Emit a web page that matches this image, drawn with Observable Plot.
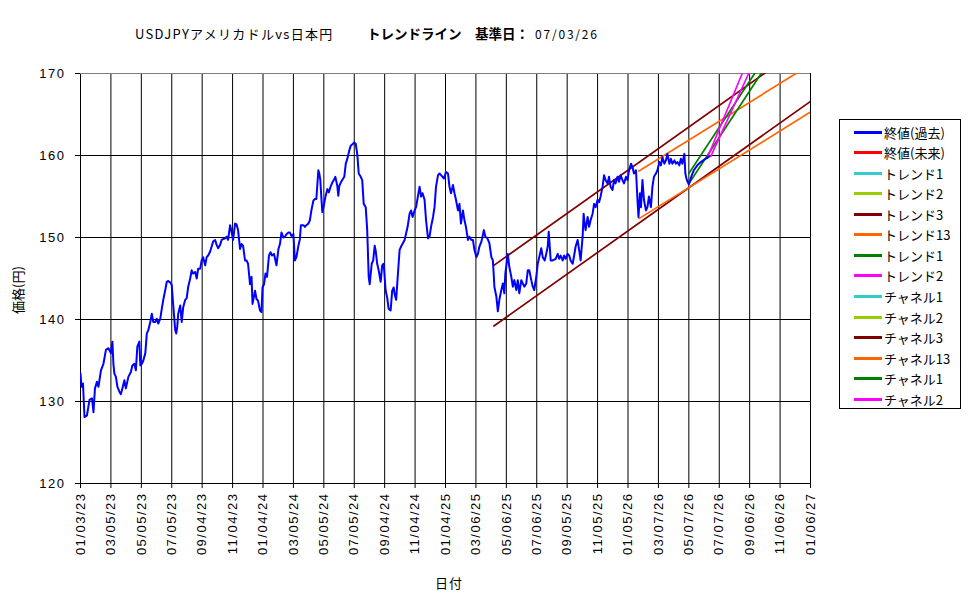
<!DOCTYPE html>
<html>
<head>
<meta charset="utf-8">
<script src="https://cdn.jsdelivr.net/npm/d3@7"></script>
<script src="https://cdn.jsdelivr.net/npm/@observablehq/plot@0.6"></script>
<style>
  body { margin: 0; background: white; }
  #wrap { position: relative; width: 975px; height: 599px; overflow: hidden; font-family: "Noto Sans CJK JP", sans-serif; color: black; }
  #wrap svg text { letter-spacing: 1.5px; }
  .abs { position: absolute; white-space: nowrap; }
  #legend { position: absolute; left: 839px; top: 119px; width: 122px; height: 290px; border: 1px solid black; box-sizing: border-box; background: white; }
  .lrow { position: absolute; left: 0; height: 16px; display: flex; align-items: center; font-size: 13px; }
  .lrow span.sw { display: inline-block; width: 28px; height: 3px; margin-left: 14px; margin-right: 2px; }
</style>
</head>
<body>
<div id="wrap"></div>
<script>
// ---------- data ----------
const titleMain = "USDJPYアメリカドルvs日本円";
const titleSub = "トレンドライン　基準日：";
const baseDateLabel = "07/03/26";
const xAxisTitle = "日付";
const yAxisTitle = "価格(円)";

const xTickLabels = ["01/03/23","03/05/23","05/05/23","07/05/23","09/04/23","11/04/23","01/04/24","03/05/24","05/05/24","07/05/24","09/04/24","11/04/24","01/04/25","03/06/25","05/06/25","07/06/25","09/05/25","11/05/25","01/05/26","03/07/26","05/07/26","07/07/26","09/06/26","11/06/26","01/06/27"];
const yTicks = [120, 130, 140, 150, 160, 170];

// closing prices: day offset from first date (2023-01-03) and value
const closeStart = "2023-01-03";
const closeDays = [0,2,5,8,13,18,23,26,29,33,36,41,46,51,56,61,64,66,68,71,74,78,81,84,88,91,96,101,104,108,111,114,118,120,123,126,130,133,136,140,143,146,150,153,156,160,163,166,170,173,176,180,183,186,190,192,194,196,200,203,206,210,213,216,220,223,226,230,233,236,240,243,246,250,253,256,260,263,266,270,273,276,280,283,286,290,293,296,300,303,306,310,313,316,320,323,326,330,333,336,340,343,345,350,353,356,360,363,365,368,371,374,378,381,384,388,391,393,397,400,403,407,410,413,417,420,423,427,430,433,437,440,442,447,450,453,457,460,463,467,470,473,477,479,481,483,485,488,491,495,498,501,505,508,511,515,517,519,522,525,529,532,536,539,542,546,549,552,555,558,562,565,568,572,575,578,580,584,587,590,592,595,598,602,605,608,612,615,618,622,625,628,630,633,638,640,643,650,656,660,663,666,670,673,680,683,686,690,693,697,700,703,707,710,713,717,720,723,729,733,737,740,743,747,750,753,757,760,763,767,770,773,777,780,784,787,790,794,797,800,804,809,812,816,820,824,827,829,830,834,837,840,844,847,850,852,857,860,864,867,870,874,877,880,884,887,890,894,897,900,904,907,910,914,917,920,924,927,931,934,937,939,943,947,953,957,960,963,967,970,973,977,980,983,987,990,993,997,1000,1003,1007,1009,1011,1013,1017,1020,1023,1027,1030,1033,1037,1040,1043,1047,1050,1053,1057,1060,1063,1067,1070,1073,1077,1080,1083,1087,1090,1094,1097,1100,1104,1107,1110,1114,1117,1119,1122,1124,1127,1130,1134,1137,1140,1144,1147,1150,1154,1157,1161,1164,1167,1171,1174,1177,1181,1184,1187,1191,1194,1197,1201,1204,1207,1211,1213,1216,1219,1220,1226,1230,1237,1244,1251,1257,1261];
const closeValues = [133.4,131.8,132.2,128.1,128.3,130.2,130.4,128.7,131.6,132.4,131.8,133.8,134.6,136.3,136.5,135.9,137.3,134.6,133.4,133.0,131.8,131.2,130.9,131.6,132.6,131.6,133.0,133.6,134.4,134.6,133.8,136.7,137.3,134.4,134.6,135.0,135.9,138.3,138.7,139.7,140.7,139.7,139.7,140.1,139.5,140.1,141.3,142.4,143.6,144.6,144.7,144.5,144.2,141.7,138.7,138.3,139.1,140.7,141.7,139.7,141.5,142.4,142.6,144.0,145.0,146.0,145.6,145.8,145.0,146.2,146.2,147.2,147.6,146.6,147.6,147.8,148.3,148.9,149.5,149.7,149.1,148.7,149.1,149.7,149.8,149.9,150.1,149.7,151.5,150.7,149.7,151.7,151.6,150.9,148.6,149.2,149.0,147.2,147.2,146.8,144.3,145.2,141.9,143.5,142.5,142.3,141.1,140.9,143.9,144.3,145.6,145.2,147.8,148.2,147.8,148.0,147.2,146.6,148.6,149.2,150.6,150.0,150.1,150.4,150.6,150.6,150.2,150.4,147.2,147.6,149.0,149.8,151.5,151.5,151.3,151.5,151.7,152.1,153.3,154.5,154.7,154.7,158.2,157.8,157.0,154.9,153.1,153.9,154.9,155.9,155.5,156.1,156.7,157.0,157.4,156.3,155.1,156.3,156.7,157.0,157.4,159.0,159.8,160.6,161.2,161.4,161.6,161.4,160.2,157.8,157.4,157.0,154.1,153.7,150.9,145.2,144.3,146.8,147.2,149.0,148.4,146.8,146.0,144.6,146.6,146.8,143.5,142.7,141.3,141.1,143.5,143.9,143.1,142.4,146.8,148.5,148.9,149.7,151.3,152.9,153.3,152.5,153.3,153.7,156.2,155.0,155.4,154.6,152.1,149.9,150.1,151.3,152.5,153.7,156.2,157.6,157.8,157.6,157.2,158.0,157.8,156.2,155.4,156.4,155.4,154.6,153.3,154.1,151.7,153.3,152.1,151.3,149.7,150.1,149.7,149.7,148.5,147.6,148.0,148.9,149.5,150.9,150.1,149.9,149.3,147.6,147.2,145.2,144.0,142.8,141.0,142.4,143.6,144.4,143.2,145.6,148.0,146.4,145.2,144.0,144.8,143.6,144.8,143.2,144.8,144.4,144.0,144.4,146.0,146.0,144.8,144.0,143.6,145.2,146.8,147.6,148.7,147.6,147.2,148.0,148.9,150.7,147.2,147.2,147.4,148.0,147.4,147.8,147.2,147.8,147.4,148.0,147.8,147.2,146.8,147.8,148.9,149.7,148.5,147.2,150.1,152.9,151.7,150.9,152.5,151.3,152.1,152.9,154.1,153.7,154.6,154.3,155.0,156.2,157.6,157.0,156.6,157.4,156.2,155.8,157.0,156.6,157.4,156.8,157.6,157.0,156.6,157.4,157.0,158.2,159.0,158.6,157.8,158.2,154.6,152.5,155.4,153.7,157.0,154.6,153.3,153.7,155.0,153.7,156.2,157.4,157.8,158.2,159.2,158.8,159.8,159.0,159.4,160.2,159.0,159.6,159.0,159.4,159.0,159.2,158.8,159.6,159.0,160.2,157.8,157.0,156.6,156.5,157.6,158.2,158.8,159.2,159.5,159.7,159.9];

// trend / channel lines drawn on the chart
const lineNames       = ["トレンド3", "チャネル3", "トレンド13", "チャネル13", "トレンド1", "チャネル1", "トレンド2", "チャネル2"];
const lineColors      = ["#800000", "#800000", "#FF6600", "#FF6600", "#008000", "#008000", "#FF00FF", "#FF00FF"];
const lineStartDates  = ["2025-04-11","2025-04-11","2026-01-27","2026-01-27","2026-05-07","2026-05-07","2026-06-13","2026-06-20"];
const lineStartValues = [139.2, 146.6, 152.3, 158.1, 156.55, 157.8, 159.7, 159.9];
const lineEndDates    = ["2027-01-06","2027-01-06","2027-01-06","2027-01-06","2026-09-29","2026-09-16","2026-08-22","2026-09-04"];
const lineEndValues   = [166.6, 174.0, 165.3, 171.1, 170.0, 170.0, 170.0, 170.0];

// legend
const legendLabels = ["終値(過去)","終値(未来)","トレンド1","トレンド2","トレンド3","トレンド13","トレンド1","トレンド2","チャネル1","チャネル2","チャネル3","チャネル13","チャネル1","チャネル2"];
const legendColors = ["#0000FF","#FF0000","#33CCCC","#99CC00","#800000","#FF6600","#008000","#FF00FF","#33CCCC","#99CC00","#800000","#FF6600","#008000","#FF00FF"];

// ---------- build ----------
const parseMDY = s => { const [m, d, y] = s.split("/").map(Number); return new Date(Date.UTC(2000 + y, m - 1, d)); };
const tickDates = xTickLabels.map(parseMDY);
const labelMap = new Map(tickDates.map((d, i) => [+d, xTickLabels[i]]));
const t0 = new Date(closeStart + "T00:00:00Z");
const closeData = closeDays.map((d, i) => ({date: new Date(+t0 + d * 864e5), value: closeValues[i]}));
const segData = [];
lineNames.forEach((n, i) => {
  segData.push({id: i, date: new Date(lineStartDates[i] + "T00:00:00Z"), value: lineStartValues[i], color: lineColors[i]});
  segData.push({id: i, date: new Date(lineEndDates[i] + "T00:00:00Z"), value: lineEndValues[i], color: lineColors[i]});
});

const chart = Plot.plot({
  width: 975, height: 599,
  marginLeft: 80, marginRight: 165, marginTop: 73, marginBottom: 116,
  style: {fontFamily: "'Liberation Sans', sans-serif", fontSize: "13px", background: "white", color: "black", overflow: "visible"},
  x: {type: "utc", domain: [tickDates[0], tickDates[tickDates.length - 1]], label: null},
  y: {domain: [120, 170], label: null},
  marks: [
    Plot.ruleX(tickDates, {stroke: "black", strokeWidth: 1}),
    Plot.ruleY(yTicks.filter(v => v < 170), {stroke: "black", strokeWidth: 1}),
    Plot.ruleY([170], {stroke: "#808080", strokeWidth: 1}),
    Plot.axisX({ticks: tickDates, tickFormat: d => labelMap.get(+d), tickRotate: -90, tickSize: 5, tickPadding: 4, label: null}),
    Plot.axisY({ticks: yTicks, tickSize: 5, tickPadding: 10, label: null}),
    Plot.line(segData, {x: "date", y: "value", z: "id", stroke: "color", strokeWidth: 1.7, clip: true}),
    Plot.line(closeData, {x: "date", y: "value", stroke: "#0000FF", strokeWidth: 2, clip: true})
  ]
});

const wrap = document.getElementById("wrap");
wrap.appendChild(chart);

function addText(txt, left, top, css) {
  const el = document.createElement("div");
  el.className = "abs";
  el.textContent = txt;
  el.style.left = left + "px";
  el.style.top = top + "px";
  Object.assign(el.style, css || {});
  wrap.appendChild(el);
  return el;
}
addText(titleMain, 135, 24, {fontSize: "13px", letterSpacing: "1.3px"});
const sub = addText(titleSub, 367, 23, {fontSize: "13.5px", fontWeight: "bold"});
const dl = document.createElement("span");
dl.textContent = baseDateLabel;
Object.assign(dl.style, {fontWeight: "normal", fontSize: "12px", letterSpacing: "1.8px", marginLeft: "6px"});
sub.appendChild(dl);
addText(xAxisTitle, 435, 573, {fontSize: "13px", letterSpacing: "1px"});
addText(yAxisTitle, 17, 290, {fontSize: "13px", transform: "translate(-50%,-50%) rotate(-90deg)"});

const legend = document.createElement("div");
legend.id = "legend";
legendLabels.forEach((lab, i) => {
  const row = document.createElement("div");
  row.className = "lrow";
  row.style.top = (4 + i * 20.56) + "px";
  const sw = document.createElement("span");
  sw.className = "sw";
  sw.style.background = legendColors[i];
  row.appendChild(sw);
  const t = document.createElement("span");
  t.textContent = lab;
  row.appendChild(t);
  legend.appendChild(row);
});
wrap.appendChild(legend);
</script>
</body>
</html>
